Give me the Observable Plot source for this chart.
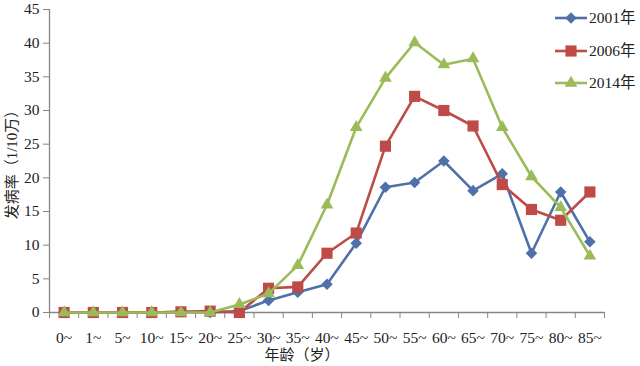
<!DOCTYPE html>
<html>
<head>
<meta charset="utf-8">
<script src="https://cdn.jsdelivr.net/npm/d3@7"></script>
<script src="https://cdn.jsdelivr.net/npm/@observablehq/plot@0.6"></script>
<style>
  html, body { margin: 0; padding: 0; background: #fff; }
  #chart { width: 640px; height: 366px; }
</style>
</head>
<body>
<div id="chart"></div>
<script>
const ages = ["0~","1~","5~","10~","15~","20~","25~","30~","35~","40~","45~","50~","55~","60~","65~","70~","75~","80~","85~"];
const seriesNames = ["2001年","2006年","2014年"];
const rate2001 = [0,0,0,0,0.1,0,0.2,1.8,3.0,4.2,10.3,18.6,19.3,22.5,18.1,20.6,8.8,17.9,10.5];
const rate2006 = [0,0,0,0,0.1,0.2,0,3.6,3.8,8.8,11.8,24.7,32.1,30.0,27.7,19.0,15.3,13.7,17.9];
const rate2014 = [0,0,0,0,0,0,1.2,2.8,7.0,16.0,27.5,34.8,40.1,36.8,37.7,27.5,20.2,15.6,8.4];
const yTicks = [0,5,10,15,20,25,30,35,40,45];
const yLabel = "发病率（1/10万）";
const xLabel = "年龄（岁）";

const colors = ["#5070A8", "#BE4B48", "#9BBB59"];
const symbols = ["diamond2", "square", "triangle"];
const radii = [5.2, 6.3, 4.7];
const allRates = [rate2001, rate2006, rate2014];

const font = "'Liberation Serif','Noto Sans CJK SC',serif";
const axisColor = "#858585";
const textColor = "#222";

const seriesMarks = [];
allRates.forEach((vals, s) => {
  const data = vals.map((v, i) => ({i, age: ages[i], v, series: seriesNames[s]}));
  seriesMarks.push(Plot.line(data, {x: "i", y: "v", stroke: colors[s], strokeWidth: 2.6}));
  seriesMarks.push(Plot.dot(data, {x: "i", y: "v", symbol: () => symbols[s], r: radii[s], fill: colors[s], stroke: "none"}));
});

const plot = Plot.plot({
  width: 640,
  height: 366,
  marginLeft: 49,
  marginRight: 36,
  marginTop: 9,
  marginBottom: 54,
  style: {fontFamily: font, fontSize: "15px", color: textColor, background: "#fff"},
  x: {type: "linear", domain: [-0.5, ages.length - 0.5]},
  y: {domain: [0, 45]},
  symbol: {type: "identity"},
  marks: [
    Plot.axisY({ticks: yTicks, tickSize: 6, tickPadding: 4, fontSize: 15.5, stroke: axisColor, fill: textColor, label: null}),
    Plot.axisX({ticks: d3.range(-0.5, ages.length, 1), tickSize: 6, tickFormat: () => "", stroke: axisColor, label: null}),
    Plot.axisX({ticks: d3.range(ages.length), tickSize: 0, tickPadding: 19, tickFormat: i => ages[i], fontSize: 15.5, fill: textColor, label: null}),
    Plot.ruleX([-0.5], {stroke: axisColor, strokeWidth: 1.3}),
    Plot.ruleY([0], {stroke: axisColor, strokeWidth: 1.3}),
    Plot.text([yLabel], {frameAnchor: "left", textAnchor: "middle", lineAnchor: "middle", rotate: -90, dx: -37, fontSize: 15, fill: textColor}),
    Plot.text([xLabel], {frameAnchor: "bottom", textAnchor: "middle", lineAnchor: "middle", dx: -25, dy: 43, fontSize: 15, fill: textColor}),
    ...seriesMarks
  ]
});

document.getElementById("chart").appendChild(plot);

// Legend (top right)
const svg = d3.select(plot);
const lg = svg.append("g").attr("font-family", font).attr("font-size", 15.5).attr("fill", textColor).attr("text-anchor", "start");
const legendY = [18, 51, 83];
seriesNames.forEach((name, s) => {
  const g = lg.append("g").attr("transform", `translate(0,${legendY[s]})`);
  g.append("line").attr("x1", 555).attr("x2", 587).attr("y1", 0).attr("y2", 0)
    .attr("stroke", colors[s]).attr("stroke-width", 2.6);
  const sym = {diamond2: d3.symbolDiamond2, square: d3.symbolSquare, triangle: d3.symbolTriangle}[symbols[s]];
  g.append("path").attr("transform", "translate(571,0)")
    .attr("d", d3.symbol(sym, radii[s] * radii[s] * Math.PI)())
    .attr("fill", colors[s]);
  g.append("text").attr("x", 589).attr("y", 0).attr("dy", "0.35em").attr("text-anchor", "start").text(name);
});
</script>
</body>
</html>
